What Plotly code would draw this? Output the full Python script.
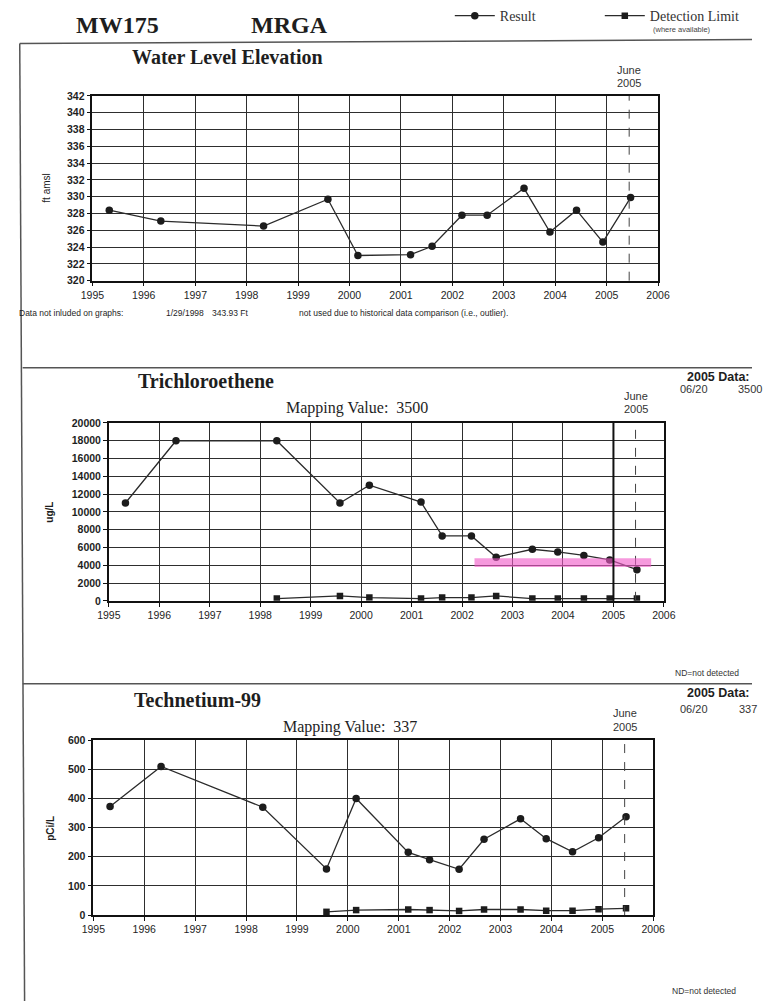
import plotly.graph_objects as go

W, H = 764, 1007

# ---------------- data ----------------
sample_dates = ["1995-05-01", "1996-05-01", "1998-05-01", "1999-08-01", "2000-03-01",
                "2001-03-10", "2001-08-10", "2002-03-10", "2002-09-05", "2003-05-25",
                "2003-11-25", "2004-06-01", "2004-12-05", "2005-06-20"]
water_level = [328.4, 327.1, 326.5, 329.7, 323.0, 323.1, 324.1, 327.8, 327.8, 331.0,
               325.8, 328.4, 324.6, 329.9]
tce_result = [11000, 18000, 18000, 11000, 13000, 11100, 7300, 7300, 4900, 5800,
              5500, 5100, 4600, 3500]
tce_dl_dates = sample_dates[2:]
tce_dl = [250, 550, 370, 250, 370, 370, 550, 250, 250, 250, 250, 250]
tc99_result = [372, 510, 370, 158, 400, 215, 190, 157, 260, 330, 262, 217, 265, 337]
tc99_dl_dates = sample_dates[3:]
tc99_dl = [11, 17, 19, 17, 14, 19, 19, 15, 15, 20, 23]

year_ticks = ["1995", "1996", "1997", "1998", "1999", "2000", "2001", "2002",
              "2003", "2004", "2005", "2006"]
x_range = ["1995-01-01", "2006-01-01"]
june_2005 = "2005-06-10"
highlight_x = ["2002-04-01", "2005-10-01"]
highlight_y = [3800, 4800]


def px(x):
    return x / W


def py(y):
    return 1 - y / H


SERIF = "Liberation Serif"
SANS = "Liberation Sans"
INK = "#1e1e1e"

fig = go.Figure()

res_line = dict(color="#2b2b2b", width=1.3)
res_marker = dict(symbol="circle", size=7.5, color="#1c1c1c")
dl_line = dict(color="#2b2b2b", width=1.3)
dl_marker = dict(symbol="square", size=6.5, color="#1c1c1c")

fig.add_trace(go.Scatter(x=sample_dates, y=water_level, mode="lines+markers",
                         line=res_line, marker=res_marker, name="Result",
                         xaxis="x", yaxis="y", showlegend=True))
fig.add_trace(go.Scatter(x=[None], y=[None], mode="lines+markers", line=dl_line,
                         marker=dl_marker, name="Detection Limit",
                         xaxis="x", yaxis="y", showlegend=True))
fig.add_trace(go.Scatter(x=sample_dates, y=tce_result, mode="lines+markers",
                         line=res_line, marker=res_marker, name="Result",
                         xaxis="x2", yaxis="y2", showlegend=False))
fig.add_trace(go.Scatter(x=tce_dl_dates, y=tce_dl, mode="lines+markers",
                         line=dl_line, marker=dl_marker, name="Detection Limit",
                         xaxis="x2", yaxis="y2", showlegend=False))
fig.add_trace(go.Scatter(x=sample_dates, y=tc99_result, mode="lines+markers",
                         line=res_line, marker=res_marker, name="Result",
                         xaxis="x3", yaxis="y3", showlegend=False))
fig.add_trace(go.Scatter(x=tc99_dl_dates, y=tc99_dl, mode="lines+markers",
                         line=dl_line, marker=dl_marker, name="Detection Limit",
                         xaxis="x3", yaxis="y3", showlegend=False))

xtickfont = dict(family=SANS, size=10.5, color=INK)
ytickfont = dict(family=SANS, size=10.5, color=INK, weight="bold")
GRID = "#2e2e2e"


def xax(dom, anchor):
    return dict(domain=dom, anchor=anchor, type="date", range=x_range,
                tickmode="array", tickvals=[f"{t}-01-01" for t in year_ticks],
                ticktext=year_ticks, showgrid=True, gridcolor=GRID, gridwidth=1.2,
                showline=True, linecolor="#111", linewidth=1.6, mirror=True,
                ticks="outside", ticklen=4, tickcolor="#111", tickfont=xtickfont,
                zeroline=False, fixedrange=True)


def yax(dom, anchor, rng, dtick):
    return dict(domain=dom, anchor=anchor, range=rng, dtick=dtick, tick0=rng[0],
                tickformat="d",
                showgrid=True, gridcolor=GRID, gridwidth=1.2,
                showline=True, linecolor="#111", linewidth=1.6, mirror=True,
                ticks="outside", ticklen=4, tickcolor="#111", tickfont=ytickfont,
                zeroline=False, fixedrange=True)


fig.update_layout(
    width=W, height=H,
    margin=dict(l=0, r=0, t=0, b=0),
    paper_bgcolor="white", plot_bgcolor="white",
    xaxis=xax([px(83), px(667)], "y"),
    yaxis=yax([py(278), py(91)], "x", [320, 342], 2),
    xaxis2=xax([px(100), px(673)], "y2"),
    yaxis2=yax([py(602), py(422)], "x2", [0, 20000], 2000),
    xaxis3=xax([px(84), px(662)], "y3"),
    yaxis3=yax([py(920), py(743)], "x3", [0, 600], 100),
    legend=dict(orientation="h", x=px(452), y=py(-6), xanchor="left", yanchor="top",
                font=dict(family=SERIF, size=14, color="#333"),
                bgcolor="rgba(0,0,0,0)", entrywidth=95, entrywidthmode="pixels",
                itemwidth=40),
    showlegend=True,
)

shapes = []
frame = dict(color="#555", width=1.5)
shapes.append(dict(type="line", xref="paper", yref="paper", x0=px(8), x1=1,
                   y0=py(38), y1=py(34), line=frame))
shapes.append(dict(type="line", xref="paper", yref="paper", x0=px(8), x1=px(13),
                   y0=py(38), y1=0, line=frame))
for sy in (366, 686):
    shapes.append(dict(type="line", xref="paper", yref="paper", x0=px(11), x1=1,
                       y0=py(sy), y1=py(sy), line=frame))

for xr, yr in (("x", "y"), ("x2", "y2"), ("x3", "y3")):
    shapes.append(dict(type="line", xref=xr, yref=f"{yr} domain", x0=june_2005,
                       x1=june_2005, y0=0, y1=1,
                       line=dict(color="#444", width=1, dash="dash")))

shapes.append(dict(type="rect", xref="x2", yref="y2", x0=highlight_x[0], x1=highlight_x[1],
                   y0=highlight_y[0], y1=highlight_y[1], line=dict(width=0),
                   fillcolor="rgba(240,90,200,0.62)", layer="above"))
shapes.append(dict(type="line", xref="x2", yref="y2 domain", x0="2005-01-01",
                   x1="2005-01-01", y0=0, y1=1, line=dict(color="#111", width=2)))

fig.update_layout(shapes=shapes)

ann = []


def text(t, x, y, size, family=SANS, bold=False, xanchor="center", color=INK,
         angle=0, xref="paper"):
    ann.append(dict(text=t, x=x, y=y, xref=xref, yref="paper", xanchor=xanchor,
                    yanchor="middle", showarrow=False, textangle=angle,
                    font=dict(family=family, size=size, color=color,
                              weight="bold" if bold else "normal")))


# header
text("MW175", px(109), py(19), 24, SERIF, True)
text("MRGA", px(287), py(19), 24, SERIF, True)
text("(where available)", px(660), py(24), 7.5, SANS, xanchor="left", color="#444")

# top panel
text("Water Level Elevation", px(223), py(52), 20, SERIF, True)
text("June", june_2005, py(65), 11, xref="x", color="#333")
text("2005", june_2005, py(78), 11, xref="x", color="#333")
text("ft amsl", px(36), py(184), 10, angle=-90)
text("Data not inluded on graphs:", px(5), py(311), 8.5, xanchor="left")
text("1/29/1998", px(157), py(311), 8.5, xanchor="left")
text("343.93 Ft", px(204), py(311), 8.5, xanchor="left")
text("not used due to historical data comparison (i.e., outlier).", px(294), py(311), 8.5,
     xanchor="left")

# middle panel
text("Trichloroethene", px(200), py(380), 20, SERIF, True)
text("Mapping Value:  3500", px(356), py(407), 16, SERIF)
text("June", june_2005, py(395), 11, xref="x2", color="#333")
text("2005", june_2005, py(408), 11, xref="x2", color="#333")
text("2005 Data:", px(695), py(375), 12.5, SANS, True, xanchor="left")
text("06/20", px(688), py(388), 11, xanchor="left", color="#333")
text("3500", px(747), py(388), 11, xanchor="left", color="#333")
text("ug/L", px(39), py(512), 10, bold=True, angle=-90)
text("ND=not detected", px(682), py(675), 8.5, xanchor="left", color="#333")

# bottom panel
text("Technetium-99", px(192), py(702), 20, SERIF, True)
text("Mapping Value:  337", px(349), py(730), 16, SERIF)
text("June", june_2005, py(716), 11, xref="x3", color="#333")
text("2005", june_2005, py(730), 11, xref="x3", color="#333")
text("2005 Data:", px(695), py(695), 12.5, SANS, True, xanchor="left")
text("06/20", px(688), py(711), 11, xanchor="left", color="#333")
text("337", px(748), py(711), 11, xanchor="left", color="#333")
text("pCi/L", px(39), py(832), 10, bold=True, angle=-90)
text("ND=not detected", px(679), py(997), 8.5, xanchor="left", color="#333")

fig.update_layout(annotations=ann)

# remove the default 8px page margin so the 764x1007 figure fills the window exactly
fig.write_html("out.html", config={"displayModeBar": False},
               post_script="document.body.style.margin='0';document.body.style.overflow='hidden';")
